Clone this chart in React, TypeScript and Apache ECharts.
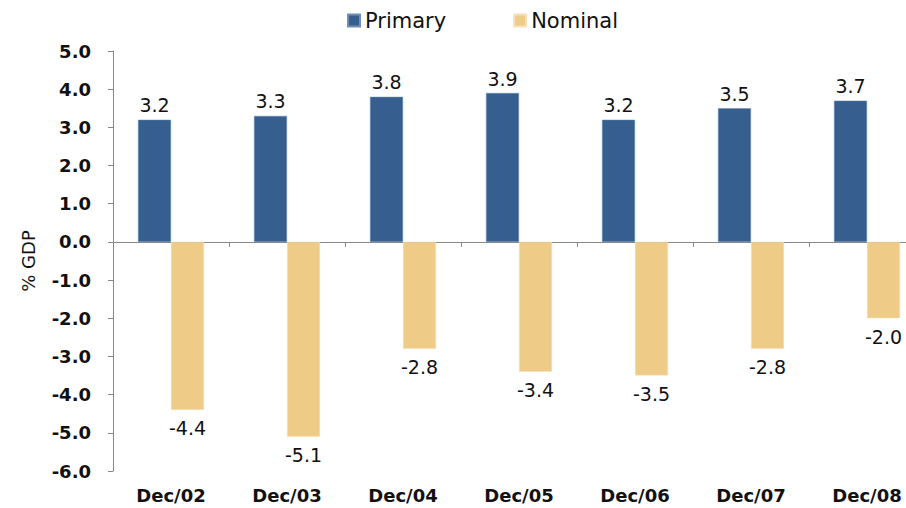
import React, { useEffect, useRef } from "react";
import * as echarts from "echarts";

const categories = ["Dec/02", "Dec/03", "Dec/04", "Dec/05", "Dec/06", "Dec/07", "Dec/08"];
const primary = [3.2, 3.3, 3.8, 3.9, 3.2, 3.5, 3.7];
const nominal = [-4.4, -5.1, -2.8, -3.4, -3.5, -2.8, -2.0];

export default function App() {
  const ref = useRef<HTMLDivElement>(null);
  useEffect(() => {
    const chart = echarts.init(ref.current!, null, { renderer: "svg" });
    const font = "DejaVu Sans, Verdana, sans-serif";
    chart.setOption({
      animation: false,
      textStyle: { fontFamily: font },
      legend: {
        left: 342,
        top: 5,
        icon: "rect",
        itemWidth: 12,
        itemHeight: 12,
        itemGap: 67,
        textStyle: { fontSize: 21, color: "#111", fontFamily: font },
        data: ["Primary", "Nominal"],
      },
      grid: { left: 113, top: 51, bottom: 37, right: 0, containLabel: false },
      xAxis: [
        {
          type: "category",
          data: categories,
          axisLine: { onZero: true, lineStyle: { color: "#888" } },
          axisTick: { show: true, length: 5, lineStyle: { color: "#888" } },
          axisLabel: { show: false },
        },
        {
          type: "category",
          data: categories,
          position: "bottom",
          axisLine: { show: false, onZero: false },
          axisTick: { show: false },
          axisLabel: { show: true, fontSize: 18, fontWeight: "bold", color: "#111", margin: 15, fontFamily: font },
        },
      ],
      yAxis: {
        type: "value",
        min: -6,
        max: 5,
        interval: 1,
        name: "% GDP",
        nameLocation: "middle",
        nameRotate: 90,
        nameGap: 76,
        nameTextStyle: { fontSize: 18, color: "#111", fontFamily: font },
        axisLine: { show: true, lineStyle: { color: "#888" } },
        axisTick: { show: true, length: 5, lineStyle: { color: "#888" } },
        splitLine: { show: false },
        axisLabel: {
          fontSize: 18,
          fontWeight: "bold",
          color: "#111",
          margin: 22,
          fontFamily: font,
          formatter: (v: number) => v.toFixed(1),
        },
      },
      series: [
        {
          name: "Primary",
          type: "bar",
          data: primary,
          barWidth: 33,
          barGap: "0%",
          itemStyle: { color: "#365f8f", borderColor: "#6f8fb5", borderWidth: 0.5 },
          label: {
            show: true,
            position: "top",
            distance: 5,
            fontSize: 19,
            color: "#111",
            fontFamily: font,
            formatter: (p: any) => Number(p.value).toFixed(1),
          },
        },
        {
          name: "Nominal",
          type: "bar",
          data: nominal,
          barWidth: 33,
          barGap: "0%",
          itemStyle: { color: "#eecb87", borderColor: "#f6e2b8", borderWidth: 0.5 },
          label: {
            show: true,
            position: "bottom",
            distance: 9,
            fontSize: 19,
            color: "#111",
            fontFamily: font,
            formatter: (p: any) => Number(p.value).toFixed(1),
          },
        },
      ],
    });
    return () => chart.dispose();
  }, []);
  return (
    <div style={{ width: 906, height: 508, position: "absolute", left: 0, top: 0, overflow: "hidden" }}>
      <div ref={ref} style={{ width: 925, height: 508 }} />
    </div>
  );
}
